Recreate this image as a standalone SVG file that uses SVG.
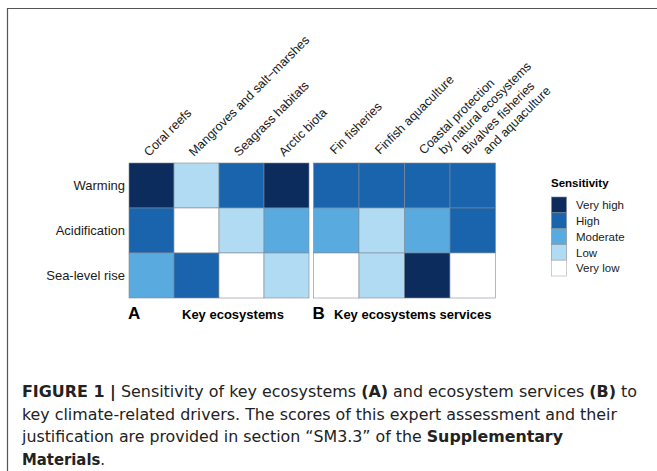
<svg xmlns="http://www.w3.org/2000/svg" width="657" height="471" viewBox="0 0 657 471">
<style>
.lab{font-family:"Liberation Sans",Arial,sans-serif;font-size:12.5px;fill:#1a1a1a}
.row{font-family:"Liberation Sans",Arial,sans-serif;font-size:13px;fill:#1a1a1a;text-anchor:end}
.leg{font-family:"Liberation Sans",Arial,sans-serif;font-size:11.5px;fill:#1a1a1a}
.bold{font-family:"Liberation Sans",Arial,sans-serif;font-weight:bold;fill:#000}
.cap{font-family:"Liberation Sans Narrow","DejaVu Sans Condensed","Liberation Sans",sans-serif;font-size:16.5px;fill:#222}
.vh{fill:#0c2c5e}.h{fill:#1a64ad}.m{fill:#59aadf}.l{fill:#b0dbf3}.vl{fill:#ffffff}
.cell rect{stroke:#7f8a96;stroke-width:0.6}
</style>
<rect x="0" y="0" width="657" height="471" fill="#fff"/>
<path d="M7.5 471 V8.5 H657" fill="none" stroke="#555" stroke-width="1.2"/>

<g id="panelA" class="cell">
<rect class="vh" x="129" y="163" width="45" height="45"/>
<rect class="l" x="174" y="163" width="45" height="45"/>
<rect class="h" x="219" y="163" width="45" height="45"/>
<rect class="vh" x="264" y="163" width="45" height="45"/>
<rect class="h" x="129" y="208" width="45" height="45"/>
<rect class="vl" x="174" y="208" width="45" height="45"/>
<rect class="l" x="219" y="208" width="45" height="45"/>
<rect class="m" x="264" y="208" width="45" height="45"/>
<rect class="m" x="129" y="253" width="45" height="45"/>
<rect class="h" x="174" y="253" width="45" height="45"/>
<rect class="vl" x="219" y="253" width="45" height="45"/>
<rect class="l" x="264" y="253" width="45" height="45"/>
</g>
<g id="panelB" class="cell">
<rect class="h" x="313.5" y="163" width="45.5" height="45"/>
<rect class="h" x="359" y="163" width="45.5" height="45"/>
<rect class="h" x="404.5" y="163" width="45.5" height="45"/>
<rect class="h" x="450" y="163" width="45.5" height="45"/>
<rect class="m" x="313.5" y="208" width="45.5" height="45"/>
<rect class="l" x="359" y="208" width="45.5" height="45"/>
<rect class="m" x="404.5" y="208" width="45.5" height="45"/>
<rect class="h" x="450" y="208" width="45.5" height="45"/>
<rect class="vl" x="313.5" y="253" width="45.5" height="45"/>
<rect class="l" x="359" y="253" width="45.5" height="45"/>
<rect class="vh" x="404.5" y="253" width="45.5" height="45"/>
<rect class="vl" x="450" y="253" width="45.5" height="45"/>
</g>

<g id="rowLabels">
<text class="row" x="125" y="190">Warming</text>
<text class="row" x="125" y="235">Acidification</text>
<text class="row" x="125" y="280">Sea-level rise</text>
</g>

<g id="colLabels" class="lab">
<text transform="translate(149,157) rotate(-45)">Coral reefs</text>
<text transform="translate(194,157) rotate(-45)">Mangroves and salt−marshes</text>
<text transform="translate(239,157) rotate(-45)">Seagrass habitats</text>
<text transform="translate(284,157) rotate(-45)">Arctic biota</text>
<text transform="translate(335,155) rotate(-45)">Fin fisheries</text>
<text transform="translate(380,155) rotate(-45)">Finfish aquaculture</text>
<text transform="translate(424,155) rotate(-45)">Coastal protection</text>
<text transform="translate(444,155) rotate(-45)">by natural ecosystems</text>
<text transform="translate(467,155) rotate(-45)">Bivalves fisheries</text>
<text transform="translate(488,155) rotate(-45)">and aquaculture</text>
</g>

<g id="legend">
<text class="bold" x="551" y="187" font-size="11.5">Sensitivity</text>
<g class="cell">
<rect class="vh" x="551.5" y="197" width="15" height="15.8"/>
<rect class="h" x="551.5" y="212.8" width="15" height="15.8"/>
<rect class="m" x="551.5" y="228.6" width="15" height="15.8"/>
<rect class="l" x="551.5" y="244.4" width="15" height="15.8"/>
<rect class="vl" x="551.5" y="260.2" width="15" height="15.8" style="stroke:#aaa"/>
</g>
<text class="leg" x="576" y="209">Very high</text>
<text class="leg" x="576" y="225">High</text>
<text class="leg" x="576" y="240.5">Moderate</text>
<text class="leg" x="576" y="256.5">Low</text>
<text class="leg" x="576" y="272">Very low</text>
</g>

<g id="panelTitles">
<text class="bold" x="128" y="318.5" font-size="17">A</text>
<text class="bold" x="182" y="319" font-size="13">Key ecosystems</text>
<text class="bold" x="312.5" y="318.5" font-size="17">B</text>
<text class="bold" x="334" y="319" font-size="13">Key ecosystems services</text>
</g>

<g id="caption" class="cap">
<text x="22" y="397" textLength="615" lengthAdjust="spacingAndGlyphs"><tspan font-weight="bold">FIGURE 1 |</tspan> Sensitivity of key ecosystems <tspan font-weight="bold">(A)</tspan> and ecosystem services <tspan font-weight="bold">(B)</tspan> to</text>
<text x="22" y="419.5" textLength="595" lengthAdjust="spacingAndGlyphs">key climate-related drivers. The scores of this expert assessment and their</text>
<text x="22" y="442" textLength="541" lengthAdjust="spacingAndGlyphs">justification are provided in section “SM3.3” of the <tspan font-weight="bold">Supplementary</tspan></text>
<text x="22" y="464.5"><tspan font-weight="bold">Materials</tspan>.</text>
</g>
</svg>
